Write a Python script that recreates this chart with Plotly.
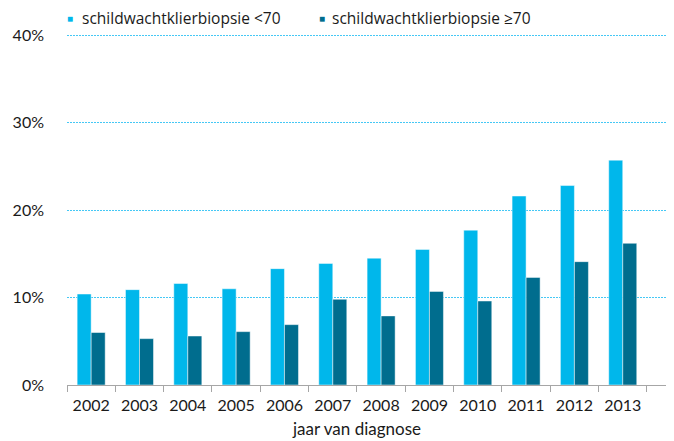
import plotly.graph_objects as go

years = ["2002", "2003", "2004", "2005", "2006", "2007",
         "2008", "2009", "2010", "2011", "2012", "2013"]
under70 = [0.104, 0.109, 0.116, 0.110, 0.133, 0.139,
           0.145, 0.155, 0.177, 0.216, 0.228, 0.257]
over70 = [0.060, 0.053, 0.056, 0.061, 0.069, 0.098,
          0.079, 0.107, 0.096, 0.123, 0.141, 0.162]
names = ["schildwachtklierbiopsie <70", "schildwachtklierbiopsie ≥70"]

light = "#00B7EB"
dark = "#006D8E"
font = "Lato"

# page body has an 8px margin, so the figure is a bit smaller and margins shifted
W, H = 666, 433
L, R, T, B = 59, 1, 24, 56
pw, ph = W - L - R, H - T - B

fig = go.Figure()
fig.add_trace(go.Bar(x=years, y=under70, name=names[0],
                     marker=dict(color=light, line=dict(color="rgba(255,255,255,0.6)", width=0.8))))
fig.add_trace(go.Bar(x=years, y=over70, name=names[1],
                     marker=dict(color=dark, line=dict(color="rgba(255,255,255,0.6)", width=0.8))))

# legend drawn as text, the way the original places it
ann = []
ly = 1 + 14 / ph
for name, col, sq_x, tx_x in [(names[0], light, 70, 81), (names[1], dark, 321.5, 331)]:
    ann.append(dict(text="■", x=(sq_x - 67) / pw, xref="paper", xanchor="center",
                    y=ly, yref="paper", yanchor="middle", showarrow=False, borderpad=0,
                    font=dict(size=10, color=col)))
    ann.append(dict(text=name.replace("<", "&lt;"), x=(tx_x - 67) / pw, xref="paper",
                    xanchor="left", y=ly, yref="paper", yanchor="middle", showarrow=False,
                    borderpad=0, font=dict(family="Open Sans", size=15.5, color="#1a1a1a")))
ann.append(dict(text="jaar van diagnose", x=5.5, xref="x", y=-43 / ph, yref="paper",
                showarrow=False, font=dict(size=17), yanchor="middle"))

fig.update_layout(
    width=W, height=H,
    margin=dict(l=L, r=R, t=T, b=B, autoexpand=False),
    paper_bgcolor="white", plot_bgcolor="white",
    barmode="group", bargap=0.42, bargroupgap=0,
    font=dict(family=font, size=16, color="#1a1a1a"),
    showlegend=False,
    xaxis=dict(type="category", range=[-0.5, 12.04], showline=True, linecolor="#A6A6A6",
               linewidth=1.2, ticks="outside", tickson="boundaries", ticklen=6,
               tickcolor="#A6A6A6", showgrid=False, ticklabelstandoff=6,
               tickfont=dict(size=16)),
    yaxis=dict(range=[0, 0.4035], tickvals=[0, 0.1, 0.2, 0.3, 0.4], tickformat=".0%",
               showgrid=True, gridcolor="#45C8F5", griddash="2px,1px", gridwidth=1.3,
               zeroline=False, showline=False, ticklabelstandoff=22, tickfont=dict(size=16)),
    annotations=ann,
)

fig.write_html("out.html")
